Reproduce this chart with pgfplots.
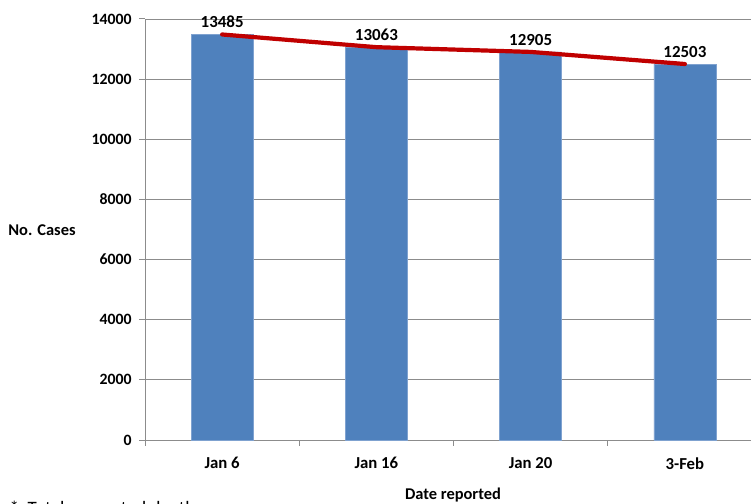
\documentclass[border=0pt]{standalone}
\usepackage{pgfplots}
\pgfplotsset{compat=1.18}
\usepackage{fontspec}
\setmainfont{Carlito}
\definecolor{barblue}{HTML}{4F81BD}
\definecolor{baredge}{HTML}{7FA2D0}
\definecolor{trendred}{HTML}{C00000}
\definecolor{gridgray}{HTML}{8C8C8C}
\begin{document}
\begin{tikzpicture}
\useasboundingbox (0,0) rectangle (751bp,504bp);
\begin{axis}[
  at={(145bp,64bp)}, anchor=south west,
  scale only axis,
  width=617bp, height=421bp,
  xmin=-0.5, xmax=3.5,
  ymin=0, ymax=14000,
  axis lines=left,
  axis line style={-, draw=gridgray, line width=1bp},
  ytick={0,2000,...,14000},
  scaled y ticks=false,
  ymajorgrids,
  grid style={draw=gridgray, line width=0.9bp},
  tick style={draw=gridgray, line width=1bp},
  major tick length=6bp,
  tick align=outside,
  xtick={-0.5,0.5,1.5,2.5,3.5},
  xticklabels={Jan 6,Jan 16,Jan 20,3-Feb},
  x tick label as interval,
  /pgf/number format/assume math mode=true,
  /pgf/number format/set thousands separator={},
  ticklabel style={font=\fontsize{15.8}{18}\selectfont\bfseries},
  yticklabel style={xshift=-4bp},
  xticklabel style={yshift=-8bp, font=\fontsize{16.8}{18}\selectfont\bfseries},
  clip=false,
]
\addplot[ybar, bar width=62bp, fill=barblue, draw=baredge, line width=0.6bp,
  nodes near coords, every node near coord/.append style={font=\fontsize{17}{19}\selectfont\bfseries, text=black, yshift=3bp},
  /pgf/number format/set thousands separator={}]
  coordinates {(0,13485) (1,13063) (2,12905) (3,12503)};
\addplot[trendred, line width=4.2bp, line cap=round, mark=none]
  coordinates {(0,13485) (1,13063) (2,12905) (3,12503)};
\end{axis}
\node[font=\fontsize{16.5}{18}\selectfont\bfseries] at (42bp,274bp) {No. Cases};
\node[font=\fontsize{16.5}{18}\selectfont\bfseries] at (453bp,9bp) {Date reported};
\node[font=\fontsize{19}{22}\selectfont, anchor=north west] at (6bp,6bp) {*\ \ Total suspected deaths};
\end{tikzpicture}
\end{document}
